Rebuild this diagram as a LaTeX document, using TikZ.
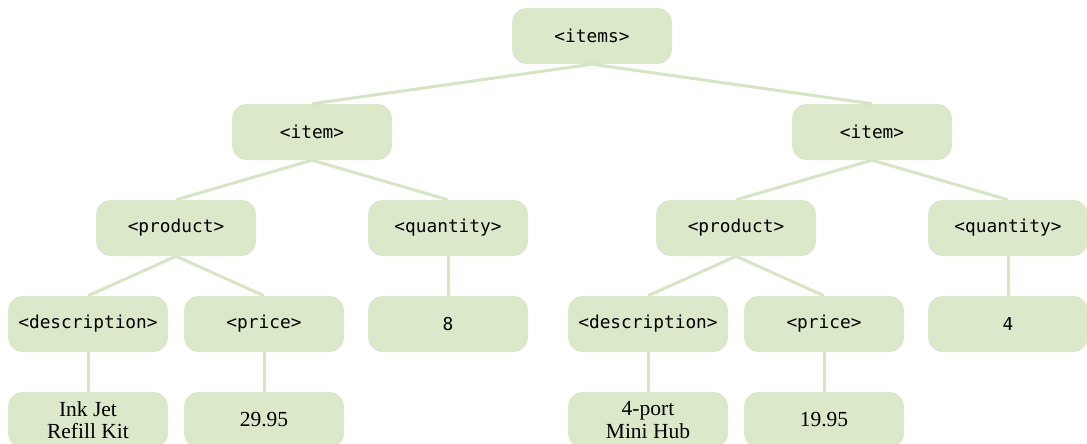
\documentclass[tikz,border=0pt]{standalone}
\usepackage{fontspec}
\setmainfont{Liberation Serif}
\setmonofont{DejaVu Sans Mono}
\definecolor{boxfill}{RGB}{219,233,202}
\definecolor{linkcol}{RGB}{214,230,196}
\begin{document}
\begin{tikzpicture}[x=1pt,y=-1pt,
  box/.style={fill=boxfill, rounded corners=15pt, minimum width=160pt, minimum height=56pt, inner sep=0pt, align=center},
  tag/.style={box, font=\fontsize{17.8}{20}\selectfont\ttfamily},
  val/.style={box, font=\fontsize{21.5}{22.5}\selectfont},
  link/.style={draw=linkcol, line width=3pt}]
\useasboundingbox (0,0) rectangle (1087,444);
\clip (0,0) rectangle (1087,444);
\node[tag] (items) at (592,36) {<items>};
\node[tag] (itemL) at (312,132) {<item>};
\node[tag] (itemR) at (872,132) {<item>};
\node[tag] (prodL) at (176,228) {<product>};
\node[tag] (qtyL) at (448,228) {<quantity>};
\node[tag] (prodR) at (736,228) {<product>};
\node[tag] (qtyR) at (1008,228) {<quantity>};
\node[tag] (descL) at (88,324) {<description>};
\node[tag] (priceL) at (264,324) {<price>};
\node[tag] (val8) at (448,324) {8};
\node[tag] (descR) at (648,324) {<description>};
\node[tag] (priceR) at (824,324) {<price>};
\node[tag] (val4) at (1008,324) {4};
\node[val] (inkjet) at (88,420) {Ink Jet\\Refill Kit};
\node[val] (pL) at (264,420) {29.95};
\node[val] (hub) at (648,420) {4-port\\Mini Hub};
\node[val] (pR) at (824,420) {19.95};
\draw[link] (items.south) -- (itemL.north);
\draw[link] (items.south) -- (itemR.north);
\draw[link] (itemL.south) -- (prodL.north);
\draw[link] (itemL.south) -- (qtyL.north);
\draw[link] (itemR.south) -- (prodR.north);
\draw[link] (itemR.south) -- (qtyR.north);
\draw[link] (prodL.south) -- (descL.north);
\draw[link] (prodL.south) -- (priceL.north);
\draw[link] (qtyL.south) -- (val8.north);
\draw[link] (prodR.south) -- (descR.north);
\draw[link] (prodR.south) -- (priceR.north);
\draw[link] (qtyR.south) -- (val4.north);
\draw[link] (descL.south) -- (inkjet.north);
\draw[link] (priceL.south) -- (pL.north);
\draw[link] (descR.south) -- (hub.north);
\draw[link] (priceR.south) -- (pR.north);
\end{tikzpicture}
\end{document}
